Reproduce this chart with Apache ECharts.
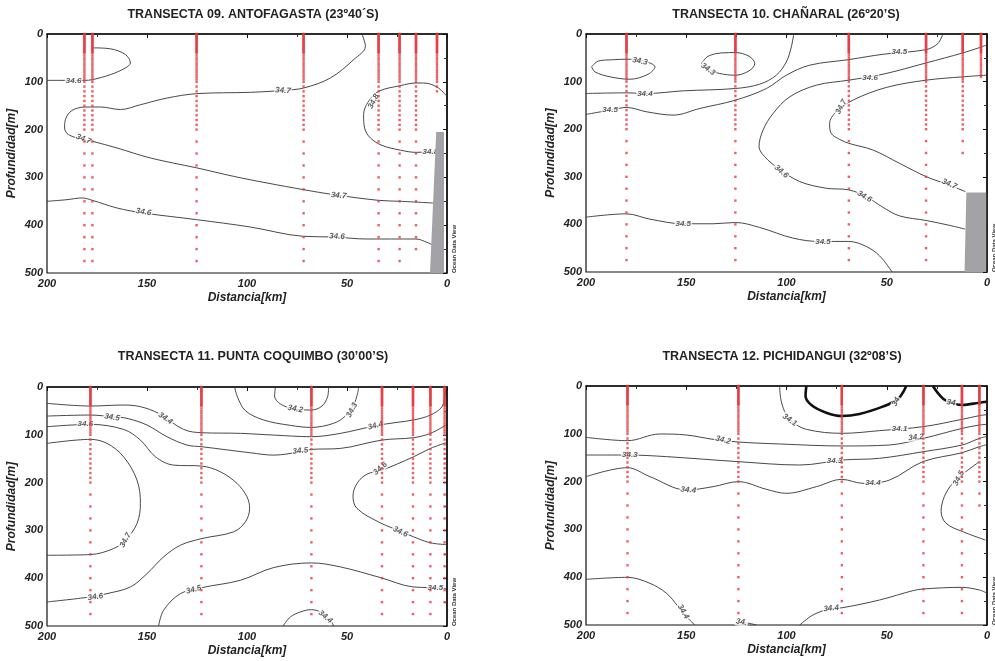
<!DOCTYPE html>
<html><head><meta charset="utf-8">
<script src="https://cdn.jsdelivr.net/npm/echarts@6/dist/echarts.min.js"></script>
<style>html,body{margin:0;padding:0;background:#fff}#c{width:995px;height:661px}</style>
</head><body><div id="c"></div>
<script>
// ---------------- DATA ----------------
const titles = ['TRANSECTA 09. ANTOFAGASTA (23º40´S)', 'TRANSECTA 10. CHAÑARAL (26º20’S)', 'TRANSECTA 11. PUNTA COQUIMBO (30’00’S)', 'TRANSECTA 12. PICHIDANGUI (32º08’S)'];
const xTicks = [200, 150, 100, 50, 0];
const yTicks = [0, 100, 200, 300, 400, 500];
const sampleDepths = [0,2,4,6,8,10,12,14,16,18,20,22,24,26,28,30,32,34,36,38,40,45,50,55,60,65,70,75,80,85,90,95,100,110,120,130,140,150,160,170,180,190,200,225,250,275,300,325,350,375,400,425,450,475];

// station positions (km) and deepest sample (m)
const t09_stations = [181.3, 177.3, 125.2, 71.7, 34.2, 23.7, 15.5, 5];
const t09_maxDepth = [475, 475, 475, 475, 475, 475, 450, 125];
const t10_stations = [179.8, 125.5, 68.9, 30.4, 12.1, 3];
const t10_maxDepth = [475, 475, 475, 475, 250, 90];
const t11_stations = [178.3, 122.8, 67.8, 32.5, 17, 8.3, 1.2];
const t11_maxDepth = [475, 475, 475, 475, 475, 475, 450];
const t12_stations = [179.3, 124, 72.4, 31.7, 12.5, 3.8];
const t12_maxDepth = [475, 475, 475, 475, 475, 250];

// bottom topography (km, m)
const t09_shelf = [[5.4,205],[1.5,205],[1.5,500],[8.5,500]];
const t10_shelf = [[10.3,333],[0.4,333],[0.4,500],[11.2,500]];

// contour isolines [km, depth m]
const t09_c346_upper = [[200,97],[190,97],[181.3,97],[177.3,95.5],[168.3,85],[160.8,71],[158.3,60.7],[160.8,43],[168.3,31],[176.7,29]];
const t09_c347 = [[42.5,0],[40.8,25.8],[46.7,53.7],[58.3,92],[71.7,113],[81.7,117.9],[98.3,122],[125.2,124.8],[140,134],[153.3,148],[163.3,158],[173.3,152.7],[180.8,152.7],[187.5,160],[190.8,179],[191.2,196.7],[189.2,210.6],[181.7,221],[177.3,224.5],[165,238.5],[148.3,259.4],[125.2,280],[106.7,297.8],[90,311.7],[71.7,325.7],[56.7,336],[34.2,348],[23.3,350],[6.8,353.6]];
const t09_c348 = [[0.3,129],[5,111],[11.7,102.5],[15.5,102.5],[23.3,108],[34.2,120],[39.2,140.9],[41.7,168.8],[41.2,196.7],[38.3,217.6],[32.5,233],[23.3,243],[15.5,247.6],[8.3,246.9],[5.6,247]];
const t09_c346_lower = [[200,350],[190,346.6],[182.5,343],[177.3,348],[165,364],[151.7,374.5],[125.2,388.4],[98.3,403.8],[71.7,423.3],[56.7,424.7],[40,428.9],[15.5,428.9],[10,435.8],[7.5,440.7]];

const t10_c343_left = [[197.2,69],[193.9,57],[186.4,54],[179.8,53],[171.5,56.6],[165.6,69],[169,84.5],[178.1,95],[188,90],[195.5,79.6],[197.2,69]];
const t10_c343_mid = [[142.4,62],[139.1,46.8],[132.4,39.8],[125.5,39],[118.7,46.8],[115.8,62],[118.7,77.5],[125.5,86.6],[133.3,83],[140,72.6],[142.4,62]];
const t10_c344 = [[200,125],[179.8,123.6],[169.8,125],[151.5,119.4],[125.5,114.5],[113.4,105.4],[105.1,86.6],[100.1,58.7],[97.6,27.2],[96.4,0]];
const t10_c345_upper = [[200,169],[188,160],[179.8,154.3],[169.8,163.4],[156.5,170.4],[143.2,156.4],[125.5,139],[110,114.5],[100.1,86.6],[88.5,65.6],[68.9,53.8],[51.9,42.6],[30.4,32.8],[24.6,20.3],[22,0]];
const t10_c346 = [[0.5,23.7],[3.8,28.6],[12.1,39.8],[30.4,60.8],[51.9,84.5],[68.9,97],[85.1,107.5],[98.4,132],[106.7,167],[111.7,201.8],[113.7,236.7],[110.9,257.7],[104.2,282],[93.4,310],[80.2,324],[68.9,327.5],[60.3,341.5],[52,363.8],[43.7,382],[30.4,391.8],[18.7,402],[10.8,410]];
const t10_c347 = [[0.5,86.6],[12.1,90],[30.4,97],[50.3,112.4],[66.9,139],[75.2,163.4],[78.5,188],[77.7,208.8],[73.5,221.4],[68.9,229.7],[56.9,243.7],[43.7,271.6],[30.4,299.6],[20.4,315],[10.8,331]];
const t10_c345_lower = [[200,384.8],[179.8,377.8],[168.1,389],[151.5,398.7],[136.6,398.7],[125.5,396],[113.4,406.4],[96.8,428.8],[83.5,435.8],[68.9,435.8],[60.2,446.4],[53.6,466],[47.3,500]];

const t11_c342 = [[85.8,0],[86.2,18.9],[83.3,35.6],[76.7,45.4],[67.8,48.2],[62.5,39.8],[59.7,20.3],[59.2,0]];
const t11_c343 = [[106.2,0],[104.7,21.6],[100.8,49.6],[91.7,69],[78.3,80.3],[67.8,84.5],[56.7,76],[50.8,60.8],[46.7,37.7],[44.7,13.3],[44.2,0]];
const t11_c344 = [[200,34.2],[178.3,39.8],[161.7,37.7],[153.3,41.2],[144.2,55.2],[131.7,88.7],[122.5,95.7],[103.3,97],[86.7,100.6],[67.8,104],[53.3,97],[35.8,81],[25,74],[16.7,69],[8.3,58.7],[2.5,41.2],[0.8,13.3],[0.3,0]];
const t11_c345_upper = [[200,60.8],[178.3,58.7],[167.5,62.2],[160,65.6],[150,79.6],[140,104],[130,121.5],[122.5,125],[98.3,137.6],[86.7,142.5],[73.3,135.5],[67.8,130.6],[53.3,128.5],[32.5,111],[16.7,106],[8.3,97],[0.5,79.6]];
const t11_c346_left = [[200,83.1],[178.3,78.2],[161.7,88.7],[153.3,111],[145.8,146],[136.7,163.4],[122.5,165.5],[113.3,177.4],[105,201.8],[100,229.7],[98.7,254.2],[100.8,282.1],[106.7,303],[122.5,317],[133.3,331],[141.7,355.4],[150,390.4],[158.3,418.3],[170,432.3],[178.3,439.2],[200,449.7]];
const t11_c347 = [[200,118],[178.3,109.6],[170,118],[161.7,146],[155,194.8],[153.3,243.7],[155,285.6],[160.8,320.5],[166.7,338],[178.3,350.6],[200,352]];
const t11_c345_lower = [[144.2,500],[141.7,467],[133.3,432.3],[122.5,419.7],[103.3,404.3],[86.7,377.8],[67.8,368],[53.3,376.4],[33.3,398.7],[17,418.3],[8.3,419.7],[0.5,421.8]];
const t11_c344_bottom = [[82,500],[78.3,481],[73.3,470.7],[67.8,465.8],[63.3,470.7],[58.3,488],[56.7,500]];
const t11_c346_right = [[0.5,116.6],[8.3,128.5],[16.7,146],[32.5,174],[40,182.3],[45,201.8],[47,228.4],[45,254.2],[33.3,284.2],[23.3,301.7],[16.7,313.5],[8.3,326],[0.5,329.6]];

const t12_c340_mid = [[90.1,0],[90.5,20.9],[87.6,39.7],[80.2,55.8],[72.4,62.8],[63.6,58.6],[52,43.2],[44.5,27.9],[41.7,11.9],[40.3,0]];
const t12_c340_right = [[27,0],[23.7,18.8],[20.4,30.7],[12.4,39.7],[3.8,34.9],[0.2,32.8]];
const t12_c341 = [[103.4,0],[102.9,25.8],[100.9,53.7],[97.6,73.2],[90.1,90.7],[71.9,99],[53.6,93.4],[31.7,85],[12.4,69.7],[3.8,62],[0.2,60]];
const t12_c342 = [[200,107.4],[179.3,114.4],[163.2,100.4],[149.9,102.5],[136.6,111.6],[124,117.2],[103.4,121.3],[71.9,125.5],[48.6,123.4],[31.7,109.5],[12.4,88.6],[3.8,81.6],[0.2,80.2]];
const t12_c343 = [[200,144.4],[179.3,144.4],[159.8,147.8],[124,158.3],[93.4,165.3],[71.9,154.8],[53.6,151.3],[31.7,137.4],[12.4,123.4],[3.8,109.5],[0.5,106]];
const t12_c344_upper = [[200,189.7],[179.3,170.9],[168.1,189.7],[149.9,217.6],[136.6,210.6],[124,200.1],[110,216.2],[100.1,224.5],[85.1,210.6],[72.4,195.3],[61.9,203.6],[48.6,196.7],[32,158.3],[12.4,139.5],[3.8,126.9],[0.5,123.4]];
const t12_c345 = [[3.8,158.3],[10.5,179.2],[17.1,203.6],[21.3,231.5],[22.9,262.9],[20.4,287.3],[12.1,304.7],[0.8,322.2]];
const t12_c344_lowLeft = [[200,404.5],[179.3,400.3],[168.1,412.8],[159.8,433.8],[154,461.6],[149.9,482.6],[145.7,500]];
const t12_c344_lowMid = [[126,500],[122.5,494.5],[117.5,497.5],[115,500]];
const t12_c344_lowRight = [[93.4,500],[86.8,479],[78.5,466.5],[71.9,463.7],[53.6,447.7],[37,428.2],[32,424.7],[12.4,421.2],[3.8,426.8],[0.5,432.4]];

// contour labels: text and anchor [km, m]
const t09_labelText = ['34.6','34.7','34.7','34.8','34.8','34.7','34.6','34.6'];
const t09_labelAt = [[186.7,97],[82,118.5],[181.7,219.7],[36.7,141],[8.3,245.5],[54.2,338],[151.7,372.4],[55,423.5]];
const t10_labelText = ['34.3','34.3','34.4','34.5','34.5','34.6','34.7','34.6','34.6','34.7','34.5','34.5'];
const t10_labelAt = [[173.1,57.3],[139.1,74],[170.6,125],[188,160],[43.7,37.7],[58.3,91.5],[72.7,153],[102.6,289],[61.1,341.5],[18.8,315],[151.5,398.7],[81.8,436.5]];
const t11_labelText = ['34.2','34.3','34.5','34.6','34.4','34.4','34.5','34.6','34.7','34.6','34.6','34.5','34.5','34.4'];
const t11_labelAt = [[75.8,46],[47.5,48.2],[167.5,63.5],[180.8,77.5],[140.8,65.6],[35.8,81],[73.3,133.4],[33.3,170.4],[160.8,320.5],[23.3,303],[175.8,439.2],[126.7,424],[5.8,419.7],[60.8,481]];
const t12_labelText = ['34','34','34.1','34.1','34.2','34.2','34.3','34.3','34.4','34.4','34.5','34.4','34.','34.4'];
const t12_labelAt = [[45.3,32.8],[17.9,34.9],[98.4,71],[43.6,88.6],[131.6,113],[35.4,107.4],[178.1,144.4],[76,156.9],[149,217.6],[56.9,202.2],[14.1,193],[151.5,472],[122.5,494],[77.7,465]];

// ---------------- STYLE / LAYOUT ----------------
const FONT = '"Liberation Sans", Arial, Helvetica, sans-serif';
const grids = [
  {left:47, top:34, width:400, height:239},
  {left:586, top:34, width:401, height:238},
  {left:47, top:387, width:400, height:239},
  {left:586, top:386, width:401, height:239}
];
const titlePos = [[253,15],[786,15],[253,357],[782,357]];
const t09_labelRot = [0,-4,-22,62,0,-6,-8,-3];
const t10_labelRot = [-10,-35,0,0,0,0,62,-40,-30,-25,0,0];
const t11_labelRot = [-10,62,-10,0,-35,15,5,40,62,-25,8,15,0,-40];
const t12_labelRot = [62,-10,-35,0,-15,5,0,0,-5,0,62,-60,-10,5];

const panels = [
  {st:t09_stations, md:t09_maxDepth, shelf:t09_shelf, lt:t09_labelText, la:t09_labelAt, lr:t09_labelRot,
   lines:[t09_c346_upper,t09_c347,t09_c348,t09_c346_lower], thick:[]},
  {st:t10_stations, md:t10_maxDepth, shelf:t10_shelf, lt:t10_labelText, la:t10_labelAt, lr:t10_labelRot,
   lines:[t10_c343_left,t10_c343_mid,t10_c344,t10_c345_upper,t10_c346,t10_c347,t10_c345_lower], thick:[]},
  {st:t11_stations, md:t11_maxDepth, shelf:null, lt:t11_labelText, la:t11_labelAt, lr:t11_labelRot,
   lines:[t11_c342,t11_c343,t11_c344,t11_c345_upper,t11_c346_left,t11_c347,t11_c345_lower,t11_c344_bottom,t11_c346_right], thick:[]},
  {st:t12_stations, md:t12_maxDepth, shelf:null, lt:t12_labelText, la:t12_labelAt, lr:t12_labelRot,
   lines:[t12_c341,t12_c342,t12_c343,t12_c344_upper,t12_c345,t12_c344_lowLeft,t12_c344_lowMid,t12_c344_lowRight], thick:[t12_c340_mid,t12_c340_right]}
];

const tickFont = {fontStyle:'italic', fontWeight:'bold', fontSize:11, color:'#222', fontFamily:FONT};
const nameFont = {fontStyle:'italic', fontWeight:'bold', fontSize:12, color:'#222', fontFamily:FONT};

const xAxes = [], yAxes = [], series = [], graphics = [];
grids.forEach((g, i) => {
  xAxes.push({gridIndex:i, type:'value', min:0, max:200, interval:50, inverse:true,
    name:'Distancia[km]', nameLocation:'middle', nameGap:19, nameTextStyle:nameFont,
    axisLine:{lineStyle:{color:'#111', width:1.6}}, axisTick:{length:4, lineStyle:{color:'#111'}},
    minorTick:{show:true, splitNumber:2, length:3, lineStyle:{color:'#333'}},
    axisLabel:Object.assign({margin:5, formatter: v => xTicks.includes(v) ? String(v) : ''}, tickFont),
    splitLine:{show:false}});
  yAxes.push({gridIndex:i, type:'value', min:0, max:500, interval:100, inverse:true,
    name:'Profundidad[m]', nameLocation:'middle', nameGap:29, nameRotate:90, nameTextStyle:nameFont,
    axisLine:{lineStyle:{color:'#111', width:1.6}}, axisTick:{length:4, lineStyle:{color:'#111'}},
    minorTick:{show:true, splitNumber:2, length:3, lineStyle:{color:'#333'}},
    axisLabel:Object.assign({margin:4, formatter: v => yTicks.includes(v) ? String(v) : ''}, tickFont),
    splitLine:{show:false}});

  const p = panels[i];
  p.lines.forEach(pts => series.push({type:'line', xAxisIndex:i, yAxisIndex:i, data:pts, smooth:0.35,
    symbol:'none', silent:true, z:3, lineStyle:{color:'#333', width:0.9}}));
  p.thick.forEach(pts => series.push({type:'line', xAxisIndex:i, yAxisIndex:i, data:pts, smooth:0.35,
    symbol:'none', silent:true, z:3, lineStyle:{color:'#111', width:2.6}}));

  series.push({type:'scatter', xAxisIndex:i, yAxisIndex:i, symbol:'circle', symbolSize:1, silent:true, z:5,
    itemStyle:{color:'rgba(0,0,0,0)'},
    data:p.la.map((a, k) => ({value:a, name:p.lt[k], label:{rotate:p.lr[k]}})),
    label:{show:true, position:'inside', formatter: q => q.name, fontSize:8, fontStyle:'italic', fontWeight:'bold',
      color:'#333', backgroundColor:'#fff', padding:[0,1], fontFamily:FONT}});

  const pts = [];
  p.st.forEach((km, k) => sampleDepths.forEach(d => { if (d <= p.md[k]) pts.push([km, d]); }));
  series.push({type:'scatter', xAxisIndex:i, yAxisIndex:i, data:pts, symbol:'rect', symbolSize:2.4,
    silent:true, z:6, itemStyle:{color:'#e5393e'}});

  if (p.shelf) {
    const poly = p.shelf;
    series.push({type:'custom', xAxisIndex:i, yAxisIndex:i, data:[[poly[0][0], poly[0][1]]], z:7, silent:true,
      renderItem:(params, api) => ({type:'polygon', shape:{points: poly.map(q => api.coord(q))},
        style:{fill:'#a3a3a7'}})});
  }

  graphics.push({type:'text', x:titlePos[i][0], y:titlePos[i][1], z:10,
    style:{text:titles[i], font:'bold 12.5px ' + FONT, fill:'#222', textAlign:'center', align:'center', textVerticalAlign:'middle', verticalAlign:'middle'}});
  graphics.push({type:'text', x:g.left + g.width + 7, y:g.top + g.height - 24, rotation:Math.PI/2, z:10,
    style:{text:'Ocean Data View', font:'bold 6px ' + FONT, fill:'#333', textAlign:'center', align:'center', textVerticalAlign:'middle', verticalAlign:'middle'}});
});

const chart = echarts.init(document.getElementById('c'), null, {renderer:'canvas'});
chart.setOption({
  animation:false,
  backgroundColor:'#fff',
  grid: grids.map(g => Object.assign({show:true, borderColor:'#111', borderWidth:1.2, backgroundColor:'transparent'}, g)),
  xAxis:xAxes, yAxis:yAxes, series:series, graphic:graphics
});
</script></body></html>
